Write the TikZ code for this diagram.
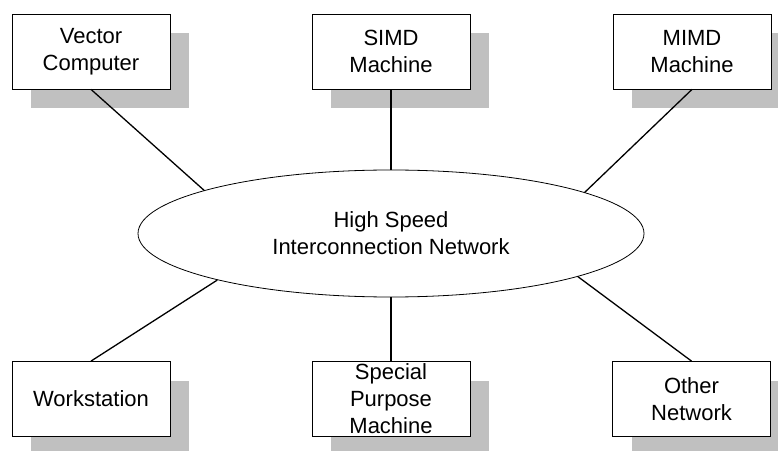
\documentclass[tikz,border=0pt]{standalone}
\usepackage{fontspec}
\setmainfont{Liberation Sans}
\usetikzlibrary{shapes.geometric,shadows}
\definecolor{shadowgray}{HTML}{C0C0C0}
\begin{document}
\begin{tikzpicture}[x=1pt,y=1pt,
  every node/.style={align=center,font=\fontsize{22}{27}\selectfont},
  unit/.style={rectangle,draw,line width=0.8pt,fill=white,inner sep=0pt,
    minimum width=158pt,minimum height=75pt,
    drop shadow={shadow xshift=19pt,shadow yshift=-19pt,fill=shadowgray,opacity=1}},
  link/.style={line width=1.3pt}]
  \useasboundingbox (0,0) rectangle (778,450);

  \node[unit] (vc) at (91, 398.5) {Vector\\Computer};
  \node[unit] (simd) at (391, 398.5) {SIMD\\Machine};
  \node[unit] (mimd) at (692, 398.5) {MIMD\\Machine};

  \node[ellipse,draw,line width=0.8pt,inner sep=0pt,
    minimum width=506pt,minimum height=127pt] (net) at (391, 216.5)
    {High Speed\\Interconnection Network};

  \node[unit] (ws) at (91, 51) {Workstation};
  \node[unit] (sp) at (391, 51) {Special\\Purpose\\Machine};
  \node[unit] (on) at (691.5, 51) {Other\\Network};

  \draw[link] (vc.south) -- (net.167);
  \draw[link] (simd.south) -- (net.north);
  \draw[link] (mimd.south) -- (net.12.6);
  \draw[link] (ws.north) -- (net.195);
  \draw[link] (sp.north) -- (net.south);
  \draw[link] (on.north) -- (net.-13);
\end{tikzpicture}
\end{document}
